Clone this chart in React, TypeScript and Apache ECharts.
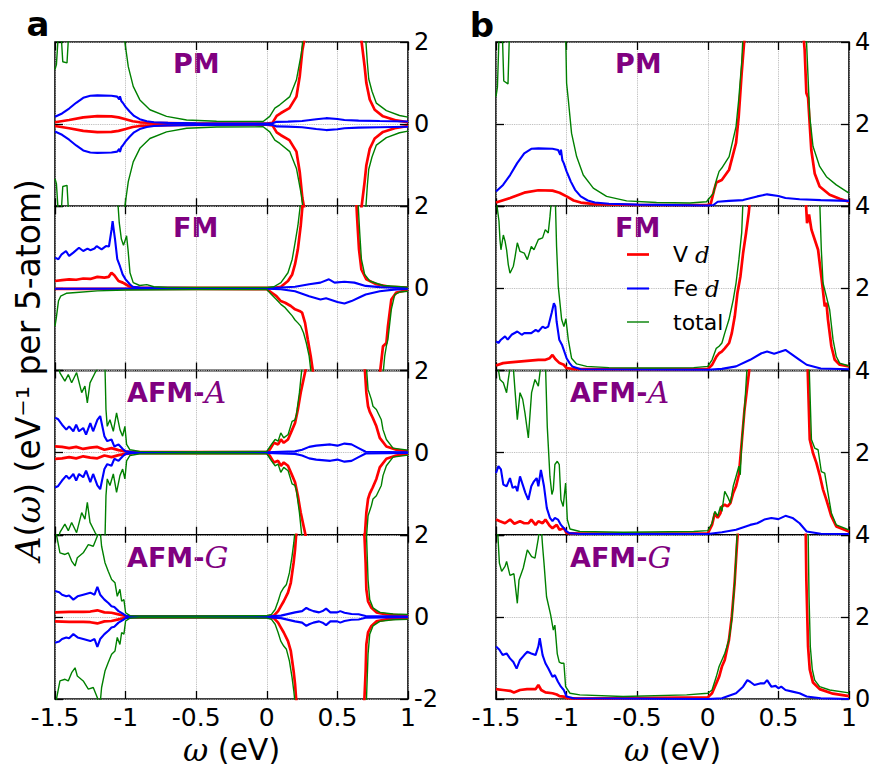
import React, { useEffect, useRef } from 'react';
import * as echarts from 'echarts';

// ---------- axes ----------
const X_MIN = -1.5;
const X_MAX = 1;
const X_INTERVAL = 0.5;
const LEFT_Y = [-2, 2];
const RIGHT_Y = [0, 4];
const PANEL_TITLES = ['PM', 'FM', 'AFM-A', 'AFM-G'];
const SERIES_NAMES = ['V d', 'Fe d', 'total'];

// ---------- (a) spin-resolved, PM (spin down = spin up) ----------
const PM_L_V = [[-1.5,0.045],[-1.4,0.1],[-1.3,0.165],[-1.2,0.195],[-1.1,0.19],[-1.05,0.165],[-1.0,0.12],[-0.95,0.07],[-0.9,0.045],[-0.8,0.03],[-0.6,0.02],[-0.3,0.015],[0.0,0.015],[0.04,0.03],[0.07,0.2],[0.1,0.27],[0.16,0.39],[0.21,0.67],[0.233,1.16],[0.252,1.8],[0.268,2.1],[0.29,4],[0.65,4],[0.668,2.1],[0.693,1.4],[0.705,1.0],[0.729,0.6],[0.764,0.35],[0.823,0.19],[0.917,0.09],[1.0,0.045]];
const PM_L_FE = [[-1.5,0.18],[-1.45,0.26],[-1.4,0.38],[-1.35,0.52],[-1.3,0.64],[-1.25,0.69],[-1.2,0.7],[-1.1,0.69],[-1.06,0.67],[-1.045,0.6],[-1.04,0.68],[-1.03,0.56],[-1.02,0.52],[-1.0,0.42],[-0.97,0.3],[-0.94,0.2],[-0.9,0.12],[-0.85,0.07],[-0.8,0.045],[-0.7,0.03],[-0.5,0.02],[0.0,0.012],[0.04,0.02],[0.07,0.055],[0.15,0.06],[0.25,0.075],[0.35,0.12],[0.42,0.145],[0.5,0.125],[0.55,0.1],[0.65,0.085],[0.8,0.075],[1.0,0.065]];
const PM_L_TOT = [[-1.5,1.33],[-1.49,1.45],[-1.478,2.1],[-1.465,4],[-1.455,2.1],[-1.445,1.52],[-1.415,1.49],[-1.405,2.1],[-1.39,4],[-1.03,4],[-1.005,2.0],[-0.995,1.75],[-0.981,1.4],[-0.946,0.92],[-0.899,0.59],[-0.828,0.35],[-0.71,0.19],[-0.568,0.1],[-0.356,0.07],[-0.026,0.065],[0.021,0.19],[0.057,0.39],[0.092,0.47],[0.163,0.67],[0.21,1.08],[0.245,1.73],[0.257,2.1],[0.28,4],[0.68,4],[0.7,2.1],[0.712,1.5],[0.722,1.1],[0.745,0.8],[0.776,0.51],[0.847,0.33],[0.94,0.21],[1.0,0.17]];

// ---------- (a) FM ----------
const FM_L_V_UP = [[-1.5,0.18],[-1.45,0.2],[-1.4,0.22],[-1.35,0.21],[-1.3,0.24],[-1.25,0.23],[-1.2,0.28],[-1.15,0.26],[-1.12,0.28],[-1.1,0.38],[-1.08,0.32],[-1.05,0.18],[-1.02,0.14],[-1.0,0.1],[-0.97,0.04],[-0.9,0.015],[0.0,0.01],[0.05,0.015],[0.1,0.04],[0.15,0.18],[0.18,0.34],[0.2,0.59],[0.22,0.95],[0.24,1.52],[0.255,2.1],[0.28,4],[0.62,4],[0.634,2.1],[0.639,1.76],[0.653,0.95],[0.67,0.46],[0.705,0.22],[0.776,0.1],[0.87,0.04],[1.0,0.02]];
const FM_L_V_DN = [[-1.5,0.01],[-0.5,0.01],[0.0,0.02],[0.033,0.1],[0.068,0.19],[0.099,0.31],[0.13,0.35],[0.17,0.43],[0.2,0.51],[0.231,0.55],[0.25,0.59],[0.271,0.84],[0.29,1.24],[0.311,1.65],[0.33,2.1],[0.36,4],[0.77,4],[0.8,2.1],[0.823,1.41],[0.847,1.33],[0.858,0.92],[0.882,0.27],[0.917,0.1],[1.0,0.04]];
const FM_L_FE_UP = [[-1.5,0.75],[-1.476,0.71],[-1.453,0.83],[-1.422,0.91],[-1.4,0.79],[-1.37,0.87],[-1.33,0.99],[-1.3,0.91],[-1.27,0.97],[-1.25,0.93],[-1.22,0.97],[-1.205,1.03],[-1.17,0.95],[-1.139,1.03],[-1.118,1.02],[-1.099,1.44],[-1.092,1.64],[-1.083,1.4],[-1.075,1.2],[-1.059,0.71],[-1.04,0.54],[-1.021,0.34],[-1.0,0.22],[-0.97,0.1],[-0.95,0.04],[-0.9,0.02],[-0.5,0.01],[0.0,0.01],[0.1,0.02],[0.2,0.04],[0.3,0.1],[0.38,0.14],[0.44,0.22],[0.48,0.14],[0.55,0.16],[0.62,0.14],[0.7,0.06],[0.8,0.03],[1.0,0.01]];
const FM_L_FE_DN = [[-1.5,0.01],[-0.5,0.005],[0.0,0.01],[0.1,0.02],[0.2,0.07],[0.3,0.19],[0.38,0.27],[0.42,0.24],[0.5,0.33],[0.55,0.37],[0.6,0.31],[0.65,0.23],[0.7,0.15],[0.8,0.07],[0.9,0.03],[1.0,0.01]];
const FM_L_TOT_UP = [[-1.5,4],[-1.07,4],[-1.055,2.1],[-1.045,1.6],[-1.03,1.2],[-1.015,1.05],[-1.0,1.2],[-0.993,1.28],[-0.983,0.95],[-0.969,0.38],[-0.946,0.14],[-0.9,0.07],[-0.85,0.09],[-0.8,0.04],[-0.7,0.02],[0.0,0.02],[0.05,0.04],[0.1,0.14],[0.15,0.38],[0.18,0.71],[0.2,1.11],[0.22,1.52],[0.24,2.1],[0.27,4],[0.62,4],[0.646,2.1],[0.658,1.36],[0.67,0.71],[0.693,0.34],[0.729,0.18],[0.823,0.07],[1.0,0.03]];
const FM_L_TOT_DN = [[-1.5,0.92],[-1.49,0.7],[-1.483,0.51],[-1.475,0.3],[-1.46,0.19],[-1.42,0.12],[-1.35,0.1],[-1.2,0.06],[-1.0,0.04],[-0.5,0.03],[0.0,0.03],[0.033,0.15],[0.068,0.27],[0.1,0.39],[0.13,0.47],[0.15,0.55],[0.18,0.67],[0.2,0.77],[0.22,0.84],[0.24,0.92],[0.26,1.08],[0.28,1.33],[0.3,1.65],[0.315,2.1],[0.34,4],[0.79,4],[0.823,2.1],[0.835,1.65],[0.847,1.4],[0.858,1.24],[0.882,0.51],[0.906,0.15],[0.94,0.09],[1.0,0.07]];

// ---------- (a) AFM-A (spin down = spin up) ----------
const AFMA_L_V = [[-1.5,0.15],[-1.45,0.14],[-1.4,0.11],[-1.35,0.14],[-1.3,0.09],[-1.25,0.12],[-1.2,0.14],[-1.15,0.07],[-1.1,0.11],[-1.05,0.06],[-1.0,0.03],[-0.95,0.01],[0.0,0.01],[0.02,0.07],[0.05,0.24],[0.08,0.2],[0.1,0.32],[0.12,0.24],[0.15,0.32],[0.18,0.56],[0.2,0.72],[0.22,1.05],[0.24,1.46],[0.26,1.78],[0.28,2.1],[0.31,4],[0.67,4],[0.693,2.1],[0.705,1.46],[0.717,1.13],[0.729,1.0],[0.75,0.85],[0.776,0.64],[0.8,0.36],[0.847,0.15],[0.917,0.07],[1.0,0.03]];
const AFMA_L_FE = [[-1.5,0.85],[-1.48,0.82],[-1.45,0.68],[-1.42,0.56],[-1.4,0.64],[-1.37,0.52],[-1.35,0.68],[-1.33,0.52],[-1.3,0.6],[-1.28,0.44],[-1.25,0.72],[-1.23,0.52],[-1.2,0.8],[-1.18,0.89],[-1.15,0.4],[-1.13,0.28],[-1.1,0.32],[-1.08,0.15],[-1.05,0.2],[-1.02,0.09],[-1.0,0.03],[-0.95,0.01],[0.0,0.01],[0.2,0.03],[0.25,0.07],[0.3,0.14],[0.35,0.17],[0.45,0.2],[0.5,0.17],[0.55,0.22],[0.6,0.2],[0.65,0.11],[0.7,0.02],[1.0,0.01]];
const AFMA_L_TOT = [[-1.5,2.3],[-1.475,2.1],[-1.465,1.94],[-1.43,1.74],[-1.406,1.9],[-1.382,1.7],[-1.347,1.95],[-1.311,1.46],[-1.288,1.62],[-1.271,1.21],[-1.252,1.7],[-1.217,1.94],[-1.19,2.1],[-1.16,4],[-1.146,2.1],[-1.139,1.05],[-1.13,0.64],[-1.111,0.8],[-1.087,0.52],[-1.064,0.97],[-1.04,0.56],[-1.021,0.4],[-1.005,0.64],[-0.993,0.2],[-0.969,0.07],[-0.9,0.03],[-0.5,0.02],[0.0,0.03],[0.033,0.2],[0.059,0.32],[0.08,0.28],[0.099,0.48],[0.12,0.36],[0.151,0.44],[0.179,0.76],[0.2,0.8],[0.21,0.93],[0.231,1.46],[0.25,2.1],[0.27,4],[0.69,4],[0.705,2.1],[0.717,1.54],[0.741,1.29],[0.752,1.13],[0.776,1.05],[0.811,0.8],[0.823,0.56],[0.847,0.32],[0.894,0.11],[1.0,0.06]];

// ---------- (a) AFM-G (spin down = spin up) ----------
const AFMG_L_V = [[-1.5,0.11],[-1.4,0.12],[-1.3,0.12],[-1.25,0.13],[-1.2,0.16],[-1.15,0.11],[-1.1,0.1],[-1.05,0.06],[-1.0,0.02],[-0.95,0.01],[0.0,0.01],[0.05,0.03],[0.08,0.14],[0.1,0.26],[0.12,0.38],[0.15,0.59],[0.17,0.83],[0.19,1.32],[0.2,1.64],[0.21,2.1],[0.24,4],[0.67,4],[0.69,2.1],[0.7,1.32],[0.705,0.67],[0.717,0.38],[0.741,0.22],[0.776,0.11],[0.847,0.06],[1.0,0.02]];
const AFMG_L_FE = [[-1.5,0.63],[-1.47,0.6],[-1.45,0.54],[-1.42,0.5],[-1.4,0.52],[-1.37,0.42],[-1.34,0.5],[-1.3,0.54],[-1.25,0.59],[-1.22,0.54],[-1.2,0.73],[-1.18,0.54],[-1.15,0.42],[-1.12,0.33],[-1.1,0.26],[-1.08,0.24],[-1.05,0.14],[-1.02,0.08],[-1.0,0.03],[-0.95,0.01],[0.0,0.01],[0.1,0.03],[0.2,0.11],[0.25,0.14],[0.28,0.22],[0.3,0.18],[0.33,0.14],[0.37,0.11],[0.4,0.15],[0.42,0.2],[0.45,0.11],[0.5,0.11],[0.52,0.14],[0.55,0.1],[0.6,0.07],[0.65,0.065],[0.7,0.02],[1.0,0.01]];
const AFMG_L_TOT = [[-1.5,2.5],[-1.49,2.1],[-1.488,1.97],[-1.465,1.56],[-1.429,1.52],[-1.406,1.56],[-1.382,1.36],[-1.358,1.24],[-1.342,1.44],[-1.3,1.56],[-1.264,1.76],[-1.229,1.72],[-1.2,1.97],[-1.19,2.1],[-1.18,2.1],[-1.17,1.72],[-1.146,1.32],[-1.123,1.11],[-1.099,0.91],[-1.075,0.83],[-1.059,0.5],[-1.04,0.67],[-1.028,0.38],[-1.012,0.42],[-1.0,0.1],[-0.969,0.03],[-0.9,0.02],[-0.5,0.02],[0.0,0.03],[0.033,0.06],[0.059,0.18],[0.08,0.38],[0.099,0.59],[0.12,0.71],[0.139,0.79],[0.16,1.07],[0.179,1.48],[0.191,1.8],[0.2,2.1],[0.22,4],[0.69,4],[0.705,2.1],[0.717,0.91],[0.729,0.42],[0.752,0.22],[0.8,0.11],[0.894,0.07],[1.0,0.06]];

// ---------- (b) spin-summed ----------
const PM_R_V = [[-1.5,0.09],[-1.4,0.2],[-1.3,0.33],[-1.2,0.39],[-1.1,0.38],[-1.05,0.33],[-1.0,0.24],[-0.95,0.14],[-0.9,0.09],[-0.8,0.05],[-0.5,0.03],[0.0,0.03],[0.021,0.06],[0.045,0.4],[0.061,0.58],[0.099,0.64],[0.151,0.89],[0.2,1.54],[0.219,2.19],[0.24,3.24],[0.262,4.2],[0.29,6],[0.66,6],[0.679,4.1],[0.686,3.8],[0.698,2.76],[0.71,2.65],[0.733,1.37],[0.757,0.8],[0.792,0.48],[0.863,0.28],[0.934,0.18],[1.0,0.11]];
const PM_R_FE = [[-1.5,0.36],[-1.45,0.52],[-1.4,0.76],[-1.35,1.05],[-1.3,1.29],[-1.25,1.4],[-1.2,1.41],[-1.1,1.4],[-1.06,1.37],[-1.045,1.25],[-1.04,1.38],[-1.03,1.12],[-1.02,1.05],[-1.0,0.85],[-0.97,0.6],[-0.94,0.4],[-0.9,0.24],[-0.85,0.14],[-0.8,0.09],[-0.7,0.06],[-0.5,0.04],[0.0,0.02],[0.04,0.03],[0.07,0.11],[0.15,0.13],[0.25,0.15],[0.35,0.24],[0.42,0.29],[0.5,0.25],[0.55,0.2],[0.65,0.17],[0.8,0.15],[1.0,0.13]];
const PM_R_TOT = [[-1.5,2.67],[-1.49,2.9],[-1.478,4.2],[-1.465,6],[-1.455,4.2],[-1.445,3.05],[-1.415,2.98],[-1.405,4.2],[-1.39,6],[-1.03,6],[-1.005,3.9],[-1.0,3.0],[-0.988,2.6],[-0.965,1.78],[-0.929,1.21],[-0.882,0.76],[-0.811,0.44],[-0.717,0.24],[-0.575,0.13],[-0.363,0.09],[-0.127,0.08],[-0.009,0.11],[0.04,0.32],[0.061,0.64],[0.08,0.85],[0.099,0.93],[0.151,1.21],[0.2,1.94],[0.219,2.6],[0.24,3.5],[0.25,4.2],[0.28,6],[0.68,6],[0.698,4.1],[0.722,2.19],[0.745,1.46],[0.792,0.97],[0.84,0.72],[0.91,0.52],[1.0,0.32]];

const FM_R_V = [[-1.5,0.12],[-1.45,0.18],[-1.4,0.2],[-1.3,0.23],[-1.2,0.26],[-1.15,0.26],[-1.12,0.3],[-1.1,0.38],[-1.08,0.28],[-1.05,0.18],[-1.02,0.14],[-1.0,0.06],[-0.95,0.035],[0.0,0.035],[0.031,0.14],[0.061,0.34],[0.08,0.42],[0.099,0.46],[0.12,0.54],[0.151,0.67],[0.17,0.91],[0.191,1.32],[0.21,1.89],[0.231,2.29],[0.25,2.86],[0.271,3.35],[0.29,3.84],[0.3,4.2],[0.32,6],[0.68,6],[0.693,4.2],[0.703,3.59],[0.717,3.8],[0.734,3.43],[0.757,3.19],[0.781,2.94],[0.804,2.29],[0.828,1.56],[0.84,1.65],[0.851,1.24],[0.875,0.59],[0.899,0.26],[0.934,0.14],[1.0,0.1]];
const FM_R_FE = [[-1.5,0.71],[-1.483,0.67],[-1.465,0.75],[-1.436,0.83],[-1.417,0.75],[-1.39,0.87],[-1.349,0.95],[-1.318,0.87],[-1.3,0.91],[-1.25,0.91],[-1.219,0.99],[-1.2,0.95],[-1.17,1.07],[-1.151,1.03],[-1.13,1.07],[-1.106,1.4],[-1.09,1.64],[-1.08,1.56],[-1.071,1.2],[-1.052,0.75],[-1.033,0.63],[-1.012,0.42],[-1.0,0.3],[-0.979,0.18],[-0.96,0.1],[-0.9,0.03],[0.0,0.02],[0.1,0.04],[0.2,0.1],[0.3,0.26],[0.38,0.42],[0.42,0.46],[0.47,0.41],[0.55,0.5],[0.6,0.38],[0.65,0.26],[0.7,0.14],[0.8,0.05],[1.0,0.03]];
const FM_R_TOT = [[-1.5,4.2],[-1.479,3.64],[-1.472,3.19],[-1.465,2.94],[-1.448,3.3],[-1.436,3.15],[-1.425,2.94],[-1.413,2.58],[-1.401,2.37],[-1.377,2.54],[-1.366,2.75],[-1.349,3.11],[-1.33,2.9],[-1.3,2.86],[-1.278,2.7],[-1.25,3.02],[-1.231,2.94],[-1.2,3.19],[-1.17,3.23],[-1.151,3.43],[-1.13,3.35],[-1.118,3.74],[-1.106,4.2],[-1.09,6],[-1.08,4.2],[-1.071,3.02],[-1.059,2.05],[-1.035,1.24],[-1.019,1.07],[-1.005,1.26],[-0.988,0.75],[-0.965,0.3],[-0.929,0.16],[-0.858,0.1],[-0.7,0.07],[-0.4,0.06],[-0.1,0.07],[0.0,0.1],[0.03,0.26],[0.06,0.54],[0.08,0.59],[0.1,0.67],[0.12,0.91],[0.15,1.24],[0.18,1.72],[0.2,2.13],[0.22,2.7],[0.24,3.35],[0.25,4.2],[0.28,6],[0.77,6],[0.792,4.2],[0.804,2.94],[0.816,2.13],[0.84,1.8],[0.863,1.48],[0.887,0.75],[0.91,0.34],[0.934,0.18],[1.0,0.11]];

const AFMA_R_V = [[-1.5,0.37],[-1.472,0.33],[-1.436,0.28],[-1.4,0.37],[-1.37,0.27],[-1.33,0.33],[-1.3,0.28],[-1.27,0.28],[-1.25,0.37],[-1.22,0.24],[-1.2,0.33],[-1.17,0.28],[-1.15,0.37],[-1.12,0.22],[-1.1,0.16],[-1.07,0.24],[-1.05,0.12],[-1.02,0.16],[-1.0,0.04],[-0.9,0.025],[0.0,0.03],[0.03,0.24],[0.05,0.53],[0.07,0.41],[0.09,0.53],[0.1,0.69],[0.12,0.73],[0.14,0.69],[0.16,0.77],[0.18,1.02],[0.2,1.18],[0.22,1.46],[0.24,2.24],[0.26,3.05],[0.28,3.62],[0.3,4.2],[0.32,6],[0.69,6],[0.706,4.2],[0.722,2.32],[0.745,1.99],[0.769,1.75],[0.792,1.46],[0.816,1.1],[0.84,0.85],[0.875,0.45],[0.91,0.2],[1.0,0.08]];
const AFMA_R_FE = [[-1.5,1.5],[-1.483,1.67],[-1.465,1.59],[-1.448,1.22],[-1.425,1.18],[-1.401,1.38],[-1.382,1.14],[-1.361,1.18],[-1.349,1.06],[-1.33,1.42],[-1.311,1.22],[-1.292,1.02],[-1.271,0.85],[-1.25,1.18],[-1.231,1.3],[-1.212,1.38],[-1.2,1.18],[-1.182,1.58],[-1.16,1.18],[-1.14,0.65],[-1.118,0.41],[-1.1,0.33],[-1.083,0.41],[-1.061,0.37],[-1.04,0.24],[-1.019,0.16],[-1.0,0.08],[-0.98,0.04],[-0.9,0.02],[0.0,0.02],[0.1,0.06],[0.2,0.12],[0.3,0.24],[0.35,0.28],[0.4,0.37],[0.45,0.41],[0.5,0.38],[0.55,0.46],[0.6,0.41],[0.65,0.28],[0.7,0.08],[0.8,0.025],[1.0,0.02]];
const AFMA_R_TOT = [[-1.5,6],[-1.491,4.2],[-1.472,3.78],[-1.448,3.7],[-1.425,3.46],[-1.413,3.78],[-1.395,4.2],[-1.38,4.2],[-1.366,3.54],[-1.349,2.8],[-1.33,3.46],[-1.311,3.3],[-1.295,2.97],[-1.271,2.36],[-1.248,3.46],[-1.224,3.78],[-1.2,3.62],[-1.18,4.2],[-1.16,6],[-1.15,4.2],[-1.137,2.64],[-1.118,1.42],[-1.104,0.98],[-1.094,1.1],[-1.083,1.71],[-1.066,1.79],[-1.052,1.71],[-1.04,0.85],[-1.024,0.69],[-1.007,1.26],[-0.995,0.37],[-0.976,0.14],[-0.906,0.08],[-0.6,0.06],[-0.1,0.08],[0.0,0.1],[0.03,0.28],[0.05,0.57],[0.07,0.45],[0.09,0.69],[0.1,0.57],[0.12,1.06],[0.14,0.93],[0.16,0.77],[0.18,1.18],[0.2,1.42],[0.22,1.67],[0.23,1.46],[0.24,2.24],[0.26,3.05],[0.28,4.2],[0.3,6],[0.7,6],[0.717,4.2],[0.734,2.32],[0.757,2.11],[0.781,2.07],[0.804,1.54],[0.828,1.5],[0.851,1.02],[0.875,0.53],[0.91,0.24],[1.0,0.12]];

const AFMG_R_V = [[-1.5,0.24],[-1.45,0.22],[-1.4,0.2],[-1.373,0.16],[-1.33,0.22],[-1.28,0.24],[-1.22,0.24],[-1.2,0.34],[-1.18,0.22],[-1.15,0.16],[-1.1,0.14],[-1.07,0.11],[-1.05,0.07],[-1.02,0.06],[-1.0,0.02],[-0.9,0.01],[0.0,0.04],[0.03,0.14],[0.06,0.38],[0.08,0.54],[0.1,0.79],[0.12,0.95],[0.15,1.44],[0.17,2.01],[0.19,2.83],[0.2,3.4],[0.215,4.2],[0.24,6],[0.68,6],[0.693,4.2],[0.698,2.9],[0.71,1.28],[0.722,0.72],[0.745,0.4],[0.792,0.24],[0.887,0.13],[1.0,0.07]];
const AFMG_R_FE = [[-1.5,1.28],[-1.476,1.2],[-1.453,1.07],[-1.425,1.11],[-1.401,0.99],[-1.377,0.9],[-1.354,0.74],[-1.33,0.95],[-1.3,1.07],[-1.278,1.15],[-1.25,1.11],[-1.22,1.07],[-1.2,1.28],[-1.19,1.48],[-1.17,1.07],[-1.15,0.87],[-1.13,0.75],[-1.1,0.54],[-1.083,0.58],[-1.061,0.42],[-1.04,0.3],[-1.02,0.22],[-1.0,0.06],[-0.95,0.02],[0.0,0.0],[0.1,0.02],[0.2,0.14],[0.25,0.3],[0.28,0.46],[0.3,0.42],[0.33,0.34],[0.37,0.38],[0.4,0.38],[0.42,0.46],[0.45,0.3],[0.48,0.32],[0.5,0.26],[0.52,0.3],[0.55,0.22],[0.6,0.18],[0.65,0.14],[0.7,0.06],[0.8,0.02],[1.0,0.0]];
const AFMG_R_TOT = [[-1.5,6],[-1.49,4.2],[-1.476,3.31],[-1.46,3.11],[-1.436,3.23],[-1.425,3.35],[-1.401,3.01],[-1.373,3.05],[-1.349,2.33],[-1.337,2.9],[-1.307,3.19],[-1.278,3.63],[-1.248,3.47],[-1.224,3.43],[-1.2,3.92],[-1.19,4.2],[-1.18,4.2],[-1.17,3.72],[-1.16,3.31],[-1.142,2.49],[-1.113,2.05],[-1.094,1.68],[-1.083,1.8],[-1.066,1.1],[-1.052,0.9],[-1.035,0.87],[-1.019,0.87],[-1.007,0.3],[-0.976,0.14],[-0.906,0.1],[-0.6,0.06],[-0.15,0.1],[0.0,0.14],[0.03,0.22],[0.06,0.54],[0.08,0.79],[0.1,0.95],[0.12,1.11],[0.15,1.44],[0.17,1.93],[0.19,2.83],[0.2,3.48],[0.21,4.2],[0.23,6],[0.69,6],[0.71,4.2],[0.717,2.49],[0.726,1.28],[0.74,0.72],[0.757,0.46],[0.792,0.3],[0.863,0.22],[1.0,0.15]];

// panel -> [V, Fe, total] ; left column has [up, down] pairs
const LEFT_PANELS = [
  [[PM_L_V, PM_L_V], [PM_L_FE, PM_L_FE], [PM_L_TOT, PM_L_TOT]],
  [[FM_L_V_UP, FM_L_V_DN], [FM_L_FE_UP, FM_L_FE_DN], [FM_L_TOT_UP, FM_L_TOT_DN]],
  [[AFMA_L_V, AFMA_L_V], [AFMA_L_FE, AFMA_L_FE], [AFMA_L_TOT, AFMA_L_TOT]],
  [[AFMG_L_V, AFMG_L_V], [AFMG_L_FE, AFMG_L_FE], [AFMG_L_TOT, AFMG_L_TOT]],
];
const RIGHT_PANELS = [
  [PM_R_V, PM_R_FE, PM_R_TOT],
  [FM_R_V, FM_R_FE, FM_R_TOT],
  [AFMA_R_V, AFMA_R_FE, AFMA_R_TOT],
  [AFMG_R_V, AFMG_R_FE, AFMG_R_TOT],
];

const COLORS = ['#ff0000', '#0000ff', '#008000'];
const WIDTHS = [2.7, 2.1, 1.4];
const SANS = '"DejaVu Sans", sans-serif';
const SERIF = '"DejaVu Serif", serif';
const PURPLE = '#800080';

function buildOption() {
  const colLeft = [55, 496];
  const plotW = 353;
  const top0 = 42;
  const rowH = 164.25;
  const grid: any[] = [];
  const xAxis: any[] = [];
  const yAxis: any[] = [];
  const series: any[] = [];
  const tick = { show: true, inside: true, length: 8, lineStyle: { color: '#000', width: 1.3 } };
  const split = { show: true, lineStyle: { color: '#b0b0b0', type: 'dotted', width: 0.9 } };

  for (let c = 0; c < 2; c++) {
    for (let r = 0; r < 4; r++) {
      const g = c * 4 + r;
      const last = r === 3;
      grid.push({
        left: colLeft[c], top: top0 + r * rowH, width: plotW, height: rowH,
        show: true, borderColor: '#000', borderWidth: 1.6, backgroundColor: 'transparent',
      });
      xAxis.push({
        gridIndex: g, type: 'value', min: X_MIN, max: X_MAX, interval: X_INTERVAL, position: 'bottom',
        axisLine: { show: false, onZero: false }, axisTick: tick,
        axisLabel: { show: last, fontFamily: SANS, fontSize: 25, color: '#000', margin: 6, showMinLabel: true, showMaxLabel: true },
        splitLine: split,
        name: last ? '{m|ω} (eV)' : '', nameLocation: 'middle', nameGap: 35,
        nameTextStyle: { fontFamily: SANS, fontSize: 30, color: '#000', rich: { m: { fontFamily: SERIF, fontStyle: 'italic', fontSize: 31, color: '#000' } } },
      });
      xAxis.push({
        gridIndex: g, type: 'value', min: X_MIN, max: X_MAX, interval: X_INTERVAL, position: 'top',
        axisLine: { show: false, onZero: false }, axisTick: tick, axisLabel: { show: false }, splitLine: { show: false },
      });
      const [ymin, ymax] = c === 0 ? LEFT_Y : RIGHT_Y;
      yAxis.push({
        gridIndex: g, type: 'value', min: ymin, max: ymax, interval: 2, position: 'right',
        axisLine: { show: false, onZero: false }, axisTick: tick,
        axisLabel: {
          show: true, fontFamily: SANS, fontSize: 24, color: '#000', margin: 6, showMinLabel: true, showMaxLabel: true,
          formatter: (v: number) => (!last && v === ymin ? '' : String(v)),
        },
        splitLine: split,
      });
      yAxis.push({
        gridIndex: g, type: 'value', min: ymin, max: ymax, interval: 2, position: 'left',
        axisLine: { show: false, onZero: false }, axisTick: tick, axisLabel: { show: false }, splitLine: { show: false },
      });

      const mk = (k: number, data: number[][]) => ({
        type: 'line', name: SERIES_NAMES[k], xAxisIndex: 2 * g, yAxisIndex: 2 * g, data,
        showSymbol: false, symbol: 'none', clip: true, silent: true,
        lineStyle: { color: COLORS[k], width: WIDTHS[k] }, itemStyle: { color: COLORS[k] },
        emphasis: { disabled: true },
      });
      if (c === 0) {
        const p = LEFT_PANELS[r];
        for (let k = 0; k < 3; k++) {
          series.push(mk(k, p[k][0]));
          series.push(mk(k, p[k][1].map(([x, y]) => [x, -y])));
        }
      } else {
        const p = RIGHT_PANELS[r];
        for (let k = 0; k < 3; k++) series.push(mk(k, p[k]));
      }
    }
  }

  const titleRich = {
    b: { fontFamily: SANS, fontWeight: 'bold', fontSize: 27, fill: PURPLE },
    i: { fontFamily: SERIF, fontStyle: 'italic', fontSize: 30, fill: PURPLE },
  };
  const titleText = (t: string) => (t.includes('-') ? `{b|${t.split('-')[0]}-}{i|${t.split('-')[1]}}` : `{b|${t}}`);
  const titleX = [[173, 173, 127, 127], [615, 615, 570, 570]];
  const titleY = [63, 227, 392, 557];
  const graphic: any[] = [];
  for (let c = 0; c < 2; c++) {
    for (let r = 0; r < 4; r++) {
      graphic.push({
        type: 'text', x: titleX[c][r], y: titleY[r], silent: true,
        style: { text: titleText(PANEL_TITLES[r]), rich: titleRich, align: 'left', verticalAlign: 'middle', fill: PURPLE },
      });
    }
  }
  graphic.push({ type: 'text', x: 38, y: 24, silent: true, style: { text: 'a', font: `bold 34px ${SANS}`, fill: '#000', align: 'center', verticalAlign: 'middle' } });
  graphic.push({ type: 'text', x: 482, y: 25, silent: true, style: { text: 'b', font: `bold 34px ${SANS}`, fill: '#000', align: 'center', verticalAlign: 'middle' } });
  graphic.push({
    type: 'text', x: 28, y: 370, rotation: Math.PI / 2, silent: true,
    style: {
      text: '{m|A}({m|ω}) (eV⁻¹ per 5-atom)',
      rich: { m: { fontFamily: SERIF, fontStyle: 'italic', fontSize: 34, fill: '#000' } },
      fontFamily: SANS, fontSize: 33, fill: '#000', align: 'center', verticalAlign: 'middle',
    },
  });

  const legendIcon = (w: number) => `path://M0,0H22V${w}H0Z`;

  return {
    animation: false,
    backgroundColor: '#fff',
    grid, xAxis, yAxis, series, graphic,
    legend: {
      data: SERIES_NAMES.map((n, k) => ({ name: n, icon: legendIcon(WIDTHS[k]) })),
      orient: 'vertical', left: 622, top: 238,
      itemWidth: 22, itemHeight: 14, itemGap: 11, padding: 5, selectedMode: false,
      formatter: (name: string) => (name === 'total' ? '{s|}total' : `{s|}${name.split(' ')[0]} {m|d}`),
      textStyle: {
        fontFamily: SANS, fontSize: 22, color: '#000',
        rich: { s: { width: 19 }, m: { fontFamily: SERIF, fontStyle: 'italic', fontSize: 23, color: '#000' } },
      },
    },
  };
}

export default function App() {
  const ref = useRef<HTMLDivElement>(null);
  useEffect(() => {
    const chart = echarts.init(ref.current as HTMLDivElement, null, { renderer: 'svg' });
    chart.setOption(buildOption() as any);
    return () => chart.dispose();
  }, []);
  return (
    <div
      ref={ref}
      style={{ position: 'absolute', left: 0, top: 0, width: 876, height: 767, background: '#fff' }}
    />
  );
}
